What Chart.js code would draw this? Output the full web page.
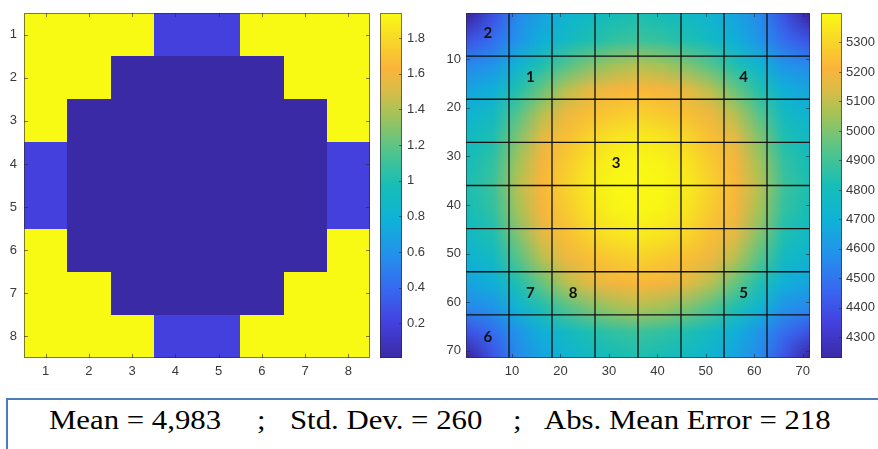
<!DOCTYPE html>
<html>
<head>
<meta charset="utf-8">
<script src="https://cdn.jsdelivr.net/npm/chart.js@4.4.0/dist/chart.umd.min.js"></script>
<style>
  body { margin: 0; background: #fff; width: 878px; height: 449px; overflow: hidden; position: relative; }
  #leftMap { position: absolute; left: 0; top: 0; }
  #rightMap { position: absolute; left: 440px; top: 0; }
  #stats { position: absolute; left: 6px; top: 398px; width: 900px; height: 70px; border: 2px solid #4a7ebb; box-sizing: border-box; }
  #stats span { position: absolute; top: 7px; font-family: "Liberation Serif", "Times New Roman", serif; font-size: 27px; line-height: 27px; color: #000; white-space: pre; transform: scaleX(1.14); transform-origin: left center; }
</style>
</head>
<body>
<canvas id="leftMap" width="440" height="392"></canvas>
<canvas id="rightMap" width="438" height="392"></canvas>
<div id="stats">
  <span id="s1">Mean = 4,983</span><span id="s2">;</span><span id="s3">Std. Dev. = 260</span><span id="s4">;</span><span id="s5">Abs. Mean Error = 218</span>
</div>
<script>
// left map: 8x8 cells, rows listed top to bottom
const leftTicks = [1, 2, 3, 4, 5, 6, 7, 8];
const leftCbTicks = [0.2, 0.4, 0.6, 0.8, 1, 1.2, 1.4, 1.6, 1.8];
const leftValues = [
  [1.94, 1.94, 1.94, 0.2, 0.2, 1.94, 1.94, 1.94],
  [1.94, 1.94, 0.01, 0.01, 0.01, 0.01, 1.94, 1.94],
  [1.94, 0.01, 0.01, 0.01, 0.01, 0.01, 0.01, 1.94],
  [0.2, 0.01, 0.01, 0.01, 0.01, 0.01, 0.01, 0.2],
  [0.2, 0.01, 0.01, 0.01, 0.01, 0.01, 0.01, 0.2],
  [1.94, 0.01, 0.01, 0.01, 0.01, 0.01, 0.01, 1.94],
  [1.94, 1.94, 0.01, 0.01, 0.01, 0.01, 1.94, 1.94],
  [1.94, 1.94, 1.94, 0.2, 0.2, 1.94, 1.94, 1.94]
];

// right map: 71x71 field, values read every 5 units
const rightTicks = [10, 20, 30, 40, 50, 60, 70];
const rightCbTicks = [4300, 4400, 4500, 4600, 4700, 4800, 4900, 5000, 5100, 5200, 5300];
const rightSamplePos = [1, 6, 11, 16, 21, 26, 31, 36, 41, 46, 51, 56, 61, 66, 71];
const rightValues = [
  [4230, 4400, 4560, 4650, 4720, 4770, 4810, 4830, 4810, 4770, 4720, 4650, 4560, 4400, 4230],
  [4400, 4480, 4590, 4690, 4770, 4830, 4870, 4890, 4870, 4830, 4770, 4690, 4590, 4480, 4400],
  [4560, 4590, 4720, 4830, 4930, 5000, 5050, 5080, 5050, 5000, 4930, 4830, 4720, 4590, 4560],
  [4650, 4690, 4830, 4960, 5080, 5160, 5200, 5220, 5200, 5160, 5080, 4960, 4830, 4690, 4650],
  [4720, 4770, 4930, 5080, 5180, 5240, 5270, 5290, 5270, 5240, 5180, 5080, 4930, 4770, 4720],
  [4770, 4830, 5000, 5160, 5240, 5300, 5340, 5360, 5340, 5300, 5240, 5160, 5000, 4830, 4770],
  [4810, 4870, 5050, 5200, 5270, 5340, 5380, 5395, 5380, 5340, 5270, 5200, 5050, 4870, 4810],
  [4830, 4890, 5080, 5220, 5290, 5360, 5395, 5400, 5395, 5360, 5290, 5220, 5080, 4890, 4830],
  [4810, 4870, 5050, 5200, 5270, 5340, 5380, 5395, 5380, 5340, 5270, 5200, 5050, 4870, 4810],
  [4770, 4830, 5000, 5160, 5240, 5300, 5340, 5360, 5340, 5300, 5240, 5160, 5000, 4830, 4770],
  [4720, 4770, 4930, 5080, 5180, 5240, 5270, 5290, 5270, 5240, 5180, 5080, 4930, 4770, 4720],
  [4650, 4690, 4830, 4960, 5080, 5160, 5200, 5220, 5200, 5160, 5080, 4960, 4830, 4690, 4650],
  [4560, 4590, 4720, 4830, 4930, 5000, 5050, 5080, 5050, 5000, 4930, 4830, 4720, 4590, 4560],
  [4400, 4480, 4590, 4690, 4770, 4830, 4870, 4890, 4870, 4830, 4770, 4690, 4590, 4480, 4400],
  [4230, 4400, 4560, 4650, 4720, 4770, 4810, 4830, 4810, 4770, 4720, 4650, 4560, 4400, 4230]
];
const blockLines = [9.375, 18.25, 27.125, 36, 44.875, 53.75, 62.625];
const zoneNames = ['2', '1', '4', '3', '7', '8', '5', '6'];
const zoneX = [5, 13.8, 57.8, 31.5, 13.8, 22.6, 57.8, 5];
const zoneY = [4.7, 13.8, 13.8, 31.5, 58.2, 58.2, 58.2, 67.2];

// parula-like colour stops
const cmap = [
  [0.00, 58, 42, 165], [0.10, 68, 64, 222], [0.20, 55, 105, 240], [0.30, 35, 145, 235],
  [0.40, 15, 178, 215], [0.50, 22, 190, 182], [0.60, 82, 196, 140], [0.70, 160, 195, 90],
  [0.78, 220, 188, 70], [0.84, 250, 180, 60], [0.92, 248, 215, 40], [1.00, 249, 250, 20]
];
function colorAt(t) {
  t = Math.max(0, Math.min(1, t));
  for (let i = 1; i < cmap.length; i++) {
    if (t <= cmap[i][0]) {
      const a = cmap[i - 1], b = cmap[i];
      const f = (t - a[0]) / (b[0] - a[0]);
      return [0, 1, 2].map(k => Math.round(a[k + 1] + f * (b[k + 1] - a[k + 1])));
    }
  }
  return cmap[cmap.length - 1].slice(1);
}
const rgb = c => 'rgb(' + c.join(',') + ')';

const tickFont = { family: '"Liberation Sans", Arial, sans-serif', size: 13 };
const tickColor = '#3a3a3a';
const boxColor = 'rgba(40,40,40,0.6)';

function drawBoxTicks(ctx, area, xs, ys, o) {
  ctx.save();
  ctx.strokeStyle = boxColor;
  ctx.lineWidth = 1;
  ctx.beginPath();
  o.ticks.forEach(v => {
    const px = Math.round(xs.getPixelForValue(v)) + 0.5;
    ctx.moveTo(px, area.top); ctx.lineTo(px, area.top + 4);
    ctx.moveTo(px, area.bottom); ctx.lineTo(px, area.bottom - 4);
    const py = Math.round(ys.getPixelForValue(v)) + 0.5;
    ctx.moveTo(area.left, py); ctx.lineTo(area.left + 4, py);
    ctx.moveTo(area.right, py); ctx.lineTo(area.right - 4, py);
  });
  ctx.stroke();
  ctx.strokeRect(Math.round(area.left) + 0.5, Math.round(area.top) + 0.5,
    Math.round(area.right - area.left) - 1, Math.round(area.bottom - area.top) - 1);
  ctx.restore();
}

function drawColorbar(ctx, cb, o) {
  const x0 = Math.round(cb.left + o.barGap), w = o.barW;
  const top = Math.round(cb.top), bottom = Math.round(cb.bottom);
  for (let y = top; y < bottom; y++) {
    const v = cb.getValueForPixel(y + 0.5);
    ctx.fillStyle = rgb(colorAt((v - o.cbMin) / (o.cbMax - o.cbMin)));
    ctx.fillRect(x0, y, w, 1);
  }
  ctx.save();
  ctx.strokeStyle = boxColor;
  ctx.lineWidth = 1;
  ctx.strokeRect(x0 + 0.5, top + 0.5, w - 1, bottom - top - 1);
  ctx.beginPath();
  o.cbTicks.forEach(v => {
    const py = Math.round(cb.getPixelForValue(v)) + 0.5;
    ctx.moveTo(x0 + w, py); ctx.lineTo(x0 + w - 3, py);
  });
  ctx.stroke();
  ctx.restore();
}

function panel(id, o) {
  const fieldPlugin = {
    id: 'field',
    beforeDatasetsDraw(chart) {
      const { ctx, chartArea: area, scales } = chart;
      ctx.save();
      ctx.beginPath();
      ctx.rect(area.left, area.top, area.right - area.left, area.bottom - area.top);
      ctx.clip();
      o.drawField(ctx, scales.x, scales.y);
      ctx.restore();
      drawColorbar(ctx, scales.cb, o);
    },
    afterDatasetsDraw(chart) {
      const { ctx, chartArea: area, scales } = chart;
      if (o.drawOverlay) o.drawOverlay(ctx, area, scales.x, scales.y);
      drawBoxTicks(ctx, area, scales.x, scales.y, o);
    }
  };
  const noPad = s => { s.paddingTop = 0; s.paddingBottom = 0; s.paddingLeft = 0; s.paddingRight = 0; };
  const setTicks = list => s => { s.ticks = list.map(v => ({ value: v })); };
  const hidden = { display: false, drawTicks: false };
  return new Chart(document.getElementById(id), {
    type: 'scatter',
    data: { datasets: [{ data: [], pointRadius: 0 }] },
    options: {
      responsive: false,
      animation: false,
      events: [],
      layout: { padding: { top: 13, left: 0, right: 0, bottom: 0 } },
      plugins: { legend: { display: false }, tooltip: { enabled: false } },
      scales: {
        x: {
          type: 'linear', position: 'bottom', min: o.lo, max: o.hi,
          afterBuildTicks: setTicks(o.ticks),
          afterFit: s => { s.height = o.xAxisH; noPad(s); },
          grid: hidden, border: { display: false },
          ticks: { padding: 6, font: tickFont, color: tickColor, maxRotation: 0, autoSkip: false }
        },
        y: {
          type: 'linear', position: 'left', reverse: true, min: o.lo, max: o.hi,
          afterBuildTicks: setTicks(o.ticks),
          afterFit: s => { s.width = o.yAxisW; noPad(s); },
          grid: hidden, border: { display: false },
          ticks: { padding: o.yPad, font: tickFont, color: tickColor, autoSkip: false }
        },
        cb: {
          type: 'linear', position: 'right', min: o.cbMin, max: o.cbMax,
          afterBuildTicks: setTicks(o.cbTicks),
          afterFit: s => { s.width = o.cbW; noPad(s); },
          grid: hidden, border: { display: false },
          ticks: { padding: o.cbPad, font: tickFont, color: tickColor, autoSkip: false,
                   callback: v => String(Math.round(v * 10) / 10) }
        }
      }
    },
    plugins: [fieldPlugin]
  });
}

// left panel
const leftFlat = leftValues.flat();
const lMin = Math.min(...leftFlat) - 0.004, lMax = Math.max(...leftFlat);
panel('leftMap', {
  lo: 0.5, hi: 8.5, ticks: leftTicks, cbTicks: leftCbTicks,
  cbMin: lMin, cbMax: lMax,
  xAxisH: 34, yAxisW: 24, yPad: 7, cbW: 70, cbPad: 37, barGap: 10, barW: 22,
  drawField(ctx, xs, ys) {
    leftValues.forEach((row, r) => {
      row.forEach((v, c) => {
        const x0 = Math.round(xs.getPixelForValue(leftTicks[c] - 0.5));
        const x1 = Math.round(xs.getPixelForValue(leftTicks[c] + 0.5));
        const y0 = Math.round(ys.getPixelForValue(leftTicks[r] - 0.5));
        const y1 = Math.round(ys.getPixelForValue(leftTicks[r] + 0.5));
        ctx.fillStyle = rgb(colorAt((v - lMin) / (lMax - lMin)));
        ctx.fillRect(x0, y0, x1 - x0, y1 - y0);
      });
    });
  }
});

// right panel
const rightFlat = rightValues.flat();
const rMin = Math.min(...rightFlat), rMax = Math.max(...rightFlat);
panel('rightMap', {
  lo: 0.5, hi: 71.5, ticks: rightTicks, cbTicks: rightCbTicks,
  cbMin: rMin, cbMax: rMax,
  xAxisH: 34, yAxisW: 26, yPad: 5, cbW: 68, cbPad: 36, barGap: 11, barW: 21,
  drawField(ctx, xs, ys) {
    const n = rightSamplePos.length;
    const off = document.createElement('canvas');
    off.width = n; off.height = n;
    const octx = off.getContext('2d');
    const img = octx.createImageData(n, n);
    rightValues.forEach((row, r) => {
      row.forEach((v, c) => {
        const col = colorAt((v - rMin) / (rMax - rMin));
        const k = (r * n + c) * 4;
        img.data[k] = col[0]; img.data[k + 1] = col[1]; img.data[k + 2] = col[2]; img.data[k + 3] = 255;
      });
    });
    octx.putImageData(img, 0, 0);
    const step = rightSamplePos[1] - rightSamplePos[0];
    const first = rightSamplePos[0] - step / 2, last = rightSamplePos[n - 1] + step / 2;
    const x0 = xs.getPixelForValue(first), x1 = xs.getPixelForValue(last);
    const y0 = ys.getPixelForValue(first), y1 = ys.getPixelForValue(last);
    ctx.imageSmoothingEnabled = true;
    ctx.imageSmoothingQuality = 'low';
    ctx.drawImage(off, x0, Math.min(y0, y1), x1 - x0, Math.abs(y1 - y0));
  },
  drawOverlay(ctx, area, xs, ys) {
    ctx.save();
    ctx.strokeStyle = '#111';
    ctx.lineWidth = 1.3;
    ctx.beginPath();
    blockLines.forEach(v => {
      const px = xs.getPixelForValue(v), py = ys.getPixelForValue(v);
      ctx.moveTo(px, area.top); ctx.lineTo(px, area.bottom);
      ctx.moveTo(area.left, py); ctx.lineTo(area.right, py);
    });
    ctx.stroke();
    ctx.fillStyle = '#111';
    ctx.font = 'bold 15px Lato, "Noto Sans", sans-serif';
    ctx.textAlign = 'center';
    ctx.textBaseline = 'middle';
    zoneNames.forEach((name, i) => {
      ctx.fillText(name, xs.getPixelForValue(zoneX[i]), ys.getPixelForValue(zoneY[i]));
    });
    ctx.restore();
  }
});

// stats line segments placed across the box
const statLeft = { s1: 41, s2: 249, s3: 282, s4: 505, s5: 536 };
Object.keys(statLeft).forEach(k => { document.getElementById(k).style.left = statLeft[k] + 'px'; });
</script>
</body>
</html>
